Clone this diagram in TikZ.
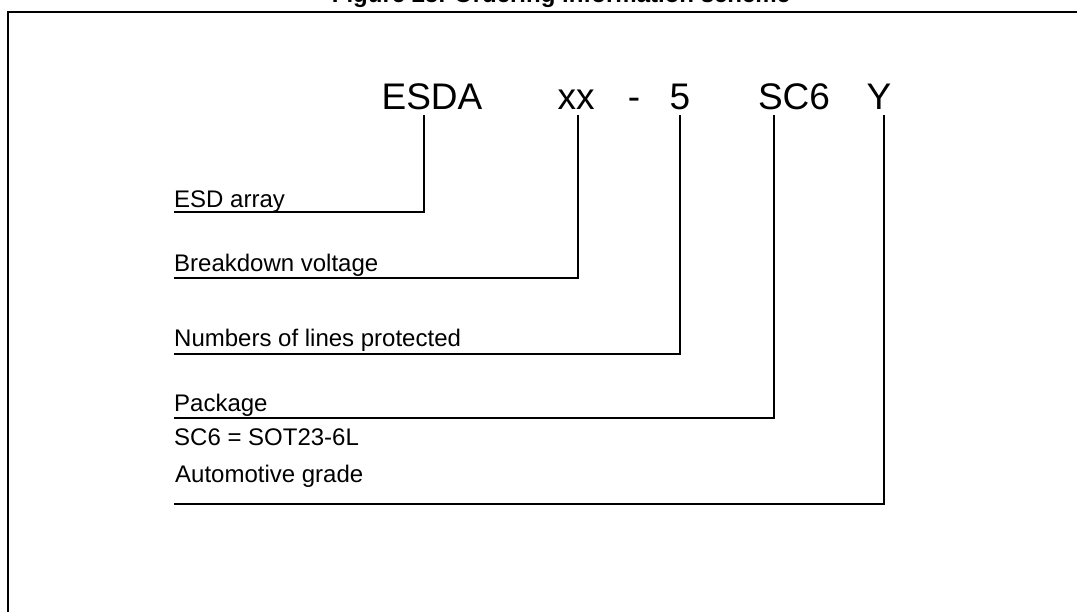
\documentclass[tikz,border=0pt]{standalone}
\usepackage{fontspec}
\setmainfont{Liberation Sans}
\begin{document}
\begin{tikzpicture}[x=1pt,y=-1pt,
  code/.style={anchor=base,inner sep=0pt,font=\fontsize{37}{40}\selectfont},
  lab/.style={anchor=base west,inner sep=0pt,font=\fontsize{24}{28}\selectfont},
  conn/.style={line width=2pt},
  framestyle/.style={line width=2.5pt}]
\useasboundingbox (0,0) rectangle (1077,612);
\clip (0,0) rectangle (1077,612);
% frame
\draw[framestyle] (8,630) -- (8,12) -- (1095,12);
% title (mostly cut off at top)
\node[anchor=base,inner sep=0pt,font=\fontsize{24}{28}\selectfont\bfseries] (title) at (561,2.5) {Figure 25. Ordering information scheme};
% code parts
\node[code] (cE) at (432,110) {ESDA};
\node[code] (cX) at (576,110) {xx};
\node[code] (cD) at (634,110) {-};
\node[code] (c5) at (680,110) {5};
\node[code] (cS) at (794,110) {SC6};
\node[code] (cY) at (879,110) {Y};
% tick tops
\coordinate (tE) at (424,115);
\coordinate (tX) at (578,115);
\coordinate (t5) at (680,115);
\coordinate (tS) at (774,115);
\coordinate (tY) at (884,115);
% labels
\node[lab] (l1) at (174,208) {ESD array};
\node[lab] (l2) at (174,272) {Breakdown voltage};
\node[lab] (l3) at (174,347) {Numbers of lines protected};
\node[lab] (l4) at (174,412) {Package};
\node[lab] (l4b) at (174,445) {SC6 = SOT23-6L};
\node[lab] (l5) at (175,482) {Automotive grade};
% line starts
\coordinate (e1) at (174,212);
\coordinate (e2) at (174,278);
\coordinate (e3) at (174,354);
\coordinate (e4) at (174,418);
\coordinate (e5) at (174,504);
% connectors
\draw[conn] (e1) -| (tE);
\draw[conn] (e2) -| (tX);
\draw[conn] (e3) -| (t5);
\draw[conn] (e4) -| (tS);
\draw[conn] (e5) -| (tY);
\end{tikzpicture}
\end{document}
